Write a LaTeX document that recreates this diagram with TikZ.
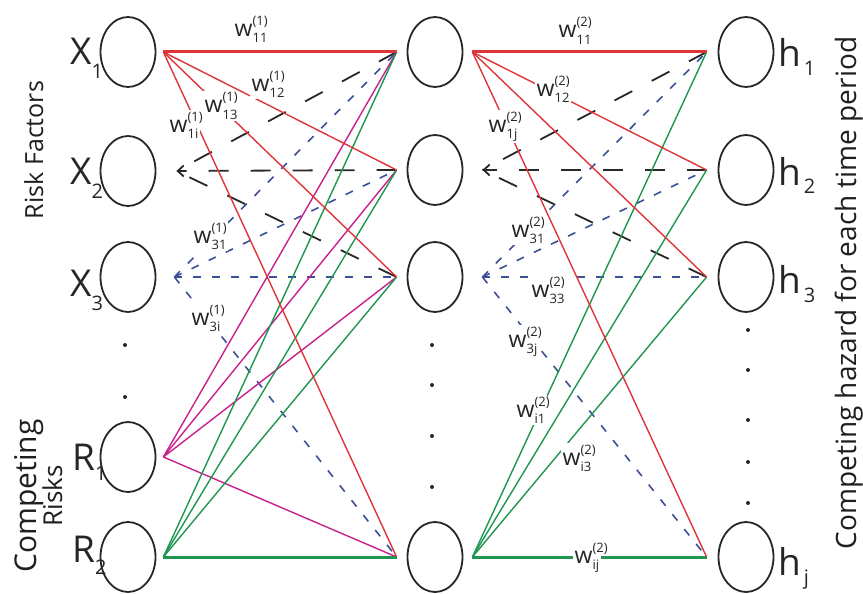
\documentclass[tikz,border=0pt]{standalone}
\usepackage{fontspec}
\setmainfont{Open Sans}
\usetikzlibrary{shapes.geometric,arrows.meta,calc}
\definecolor{cred}{RGB}{222,52,58}
\definecolor{cmag}{RGB}{200,32,140}
\definecolor{cgrn}{RGB}{30,150,80}
\definecolor{cblu}{RGB}{60,80,150}
\definecolor{cdsh}{RGB}{40,40,40}
\newcommand{\wl}[2]{w\makebox[0pt][l]{\raisebox{11pt}{\fontsize{13}{13}\selectfont(#1)}}\raisebox{-6pt}{\fontsize{13}{13}\selectfont #2}}
\newcommand{\nsub}[2]{\raisebox{-#1pt}{\fontsize{20}{20}\selectfont #2}}
\begin{document}
\begin{tikzpicture}[x=1pt,y=-1pt,
  neuron/.style={ellipse, draw=black!85, line width=1.8pt, minimum width=55pt, minimum height=70pt, inner sep=0pt},
  nlab/.style={anchor=base west, font=\fontsize{37}{37}\selectfont, text=black!85, inner sep=0pt},
  wlab/.style={anchor=base west, font=\fontsize{23}{23}\selectfont, text=black!85, fill=white, inner sep=1.5pt},
  ttl/.style={rotate=90, anchor=base, font=\fontsize{25}{25}\selectfont, text=black!88, inner sep=0pt},
  rl/.style={draw=cred, line width=1.4pt},
  ml/.style={draw=cmag, line width=1.4pt},
  gl/.style={draw=cgrn, line width=1.4pt},
  bl/.style={draw=cblu, line width=1.6pt, dash pattern=on 8pt off 11pt},
  kl/.style={draw=cdsh, line width=1.8pt, dash pattern=on 20pt off 22pt},
  thick line/.style={line width=3pt},
  dotm/.style={fill=black!85}
]
\useasboundingbox (0,0) rectangle (863,594);

% neurons
\node[neuron] (x1) at (128,52) {};
\node[neuron] (x2) at (128,171) {};
\node[neuron] (x3) at (128,277) {};
\node[neuron] (r1) at (128,457) {};
\node[neuron] (r2) at (128,557) {};
\node[neuron] (m1) at (435,52) {};
\node[neuron] (m2) at (435,170) {};
\node[neuron] (m3) at (435,277) {};
\node[neuron] (m4) at (435,557) {};
\node[neuron] (h1) at (746,52) {};
\node[neuron] (h2) at (746,170) {};
\node[neuron] (h3) at (746,277) {};
\node[neuron] (hj) at (746,557) {};

% connection points
\coordinate (ox1) at ($(x1.east)+(7,0)$);
\coordinate (ox2) at ($(x2.east)+(20,0)$);
\coordinate (ox3) at ($(x3.east)+(18,0)$);
\coordinate (or1) at ($(r1.east)+(7,0)$);
\coordinate (or2) at ($(r2.east)+(7,0)$);
\foreach \n in {1,2,3,4}{
  \coordinate (im\n) at ($(m\n.west)+(-10,0)$);
}
\coordinate (om1) at ($(m1.east)+(9,0)$);
\coordinate (om2) at ($(m2.east)+(19,0)$);
\coordinate (om3) at ($(m3.east)+(19,0)$);
\coordinate (om4) at ($(m4.east)+(9,0)$);
\foreach \n in {1,2,3,j}{
  \coordinate (ih\n) at ($(h\n.west)+(-11,0)$);
}

% ---- layer 1 ----
\draw[kl] (im1) -- (ox2);
\draw[kl,-{Straight Barb[length=6pt,width=11pt]}] (im2) -- (ox2);
\draw[kl] (im3) -- (ox2);
\foreach \n in {1,2,3,4}{ \draw[bl] (ox3) -- (im\n); }
\foreach \n in {1,2,3,4}{ \draw[ml] (or1) -- (im\n); }
\foreach \n in {1,2,3}{ \draw[gl] (or2) -- (im\n); }
\draw[gl,thick line] (or2) -- (im4);
\draw[rl,thick line] (ox1) -- (im1);
\foreach \n in {2,3,4}{ \draw[rl] (ox1) -- (im\n); }

% ---- layer 2 ----
\draw[kl] (ih1) -- (om2);
\draw[kl,-{Straight Barb[length=6pt,width=11pt]}] (ih2) -- (om2);
\draw[kl] (ih3) -- (om2);
\foreach \n in {1,2,3,j}{ \draw[bl] (om3) -- (ih\n); }
\foreach \n in {1,2,3}{ \draw[gl] (om4) -- (ih\n); }
\draw[gl,thick line] (om4) -- (ihj);
\draw[rl,thick line] (om1) -- (ih1);
\foreach \n in {2,3,j}{ \draw[rl] (om1) -- (ih\n); }

% weight labels
\node[wlab,fill=none] (w111) at (233,37) {\wl{1}{11}};
\node[wlab] (w112) at (250,92) {\wl{1}{12}};
\node[wlab] (w113) at (203,113) {\wl{1}{13}};
\node[wlab] (w11i) at (168,132) {\wl{1}{1i}};
\node[wlab] (w131) at (192,243) {\wl{1}{31}};
\node[wlab] (w13i) at (190,325) {\wl{1}{3i}};
\node[wlab,fill=none] (w211) at (557,38) {\wl{2}{11}};
\node[wlab] (w212) at (535,96) {\wl{2}{12}};
\node[wlab] (w21j) at (487,132) {\wl{2}{1j}};
\node[wlab] (w231) at (510,237) {\wl{2}{31}};
\node[wlab] (w233) at (530,297) {\wl{2}{33}};
\node[wlab] (w23j) at (507,347) {\wl{2}{3j}};
\node[wlab] (w2i1) at (515,417) {\wl{2}{i1}};
\node[wlab] (w2i3) at (561,465) {\wl{2}{i3}};
\node[wlab] (w2ij) at (573,563) {\wl{2}{ij}};

% node labels
\node[nlab] (lx1) at (70,65) {X\nsub{14}{1}};
\node[nlab] (lx2) at (70,184) {X\nsub{14}{2}};
\node[nlab] (lx3) at (70,296) {X\nsub{14}{3}};
\node[nlab] (lr1) at (72,470) {R\nsub{10}{1}};
\node[nlab] (lr2) at (72,562) {R\nsub{12}{2}};
\node[nlab] (lh1) at (778,67) {h\hspace{3pt}\nsub{9}{1}};
\node[nlab] (lh2) at (778,185) {h\hspace{3pt}\nsub{9}{2}};
\node[nlab] (lh3) at (778,293) {h\hspace{3pt}\nsub{9}{3}};
\node[nlab] (lhj) at (778,575) {h\hspace{3pt}\nsub{9}{j}};

% dots
\foreach \y in {345,397}{ \fill[dotm] (125,\y) circle (2); }
\foreach \y in {345,385,436,487}{ \fill[dotm] (432,\y) circle (2); }
\foreach \y in {330,370,420,462,503}{ \fill[dotm] (748,\y) circle (2); }

% titles
\node[ttl] (t1) at (43,150) {Risk Factors};
\node[ttl,font=\fontsize{30}{30}\selectfont] (t2) at (36,496) {Competing};
\node[ttl,font=\fontsize{26}{26}\selectfont] (t3) at (62,496) {Risks};
\node[ttl,font=\fontsize{28}{28}\selectfont] (t4) at (856,293) {Competing hazard for each time period};
\end{tikzpicture}
\end{document}
